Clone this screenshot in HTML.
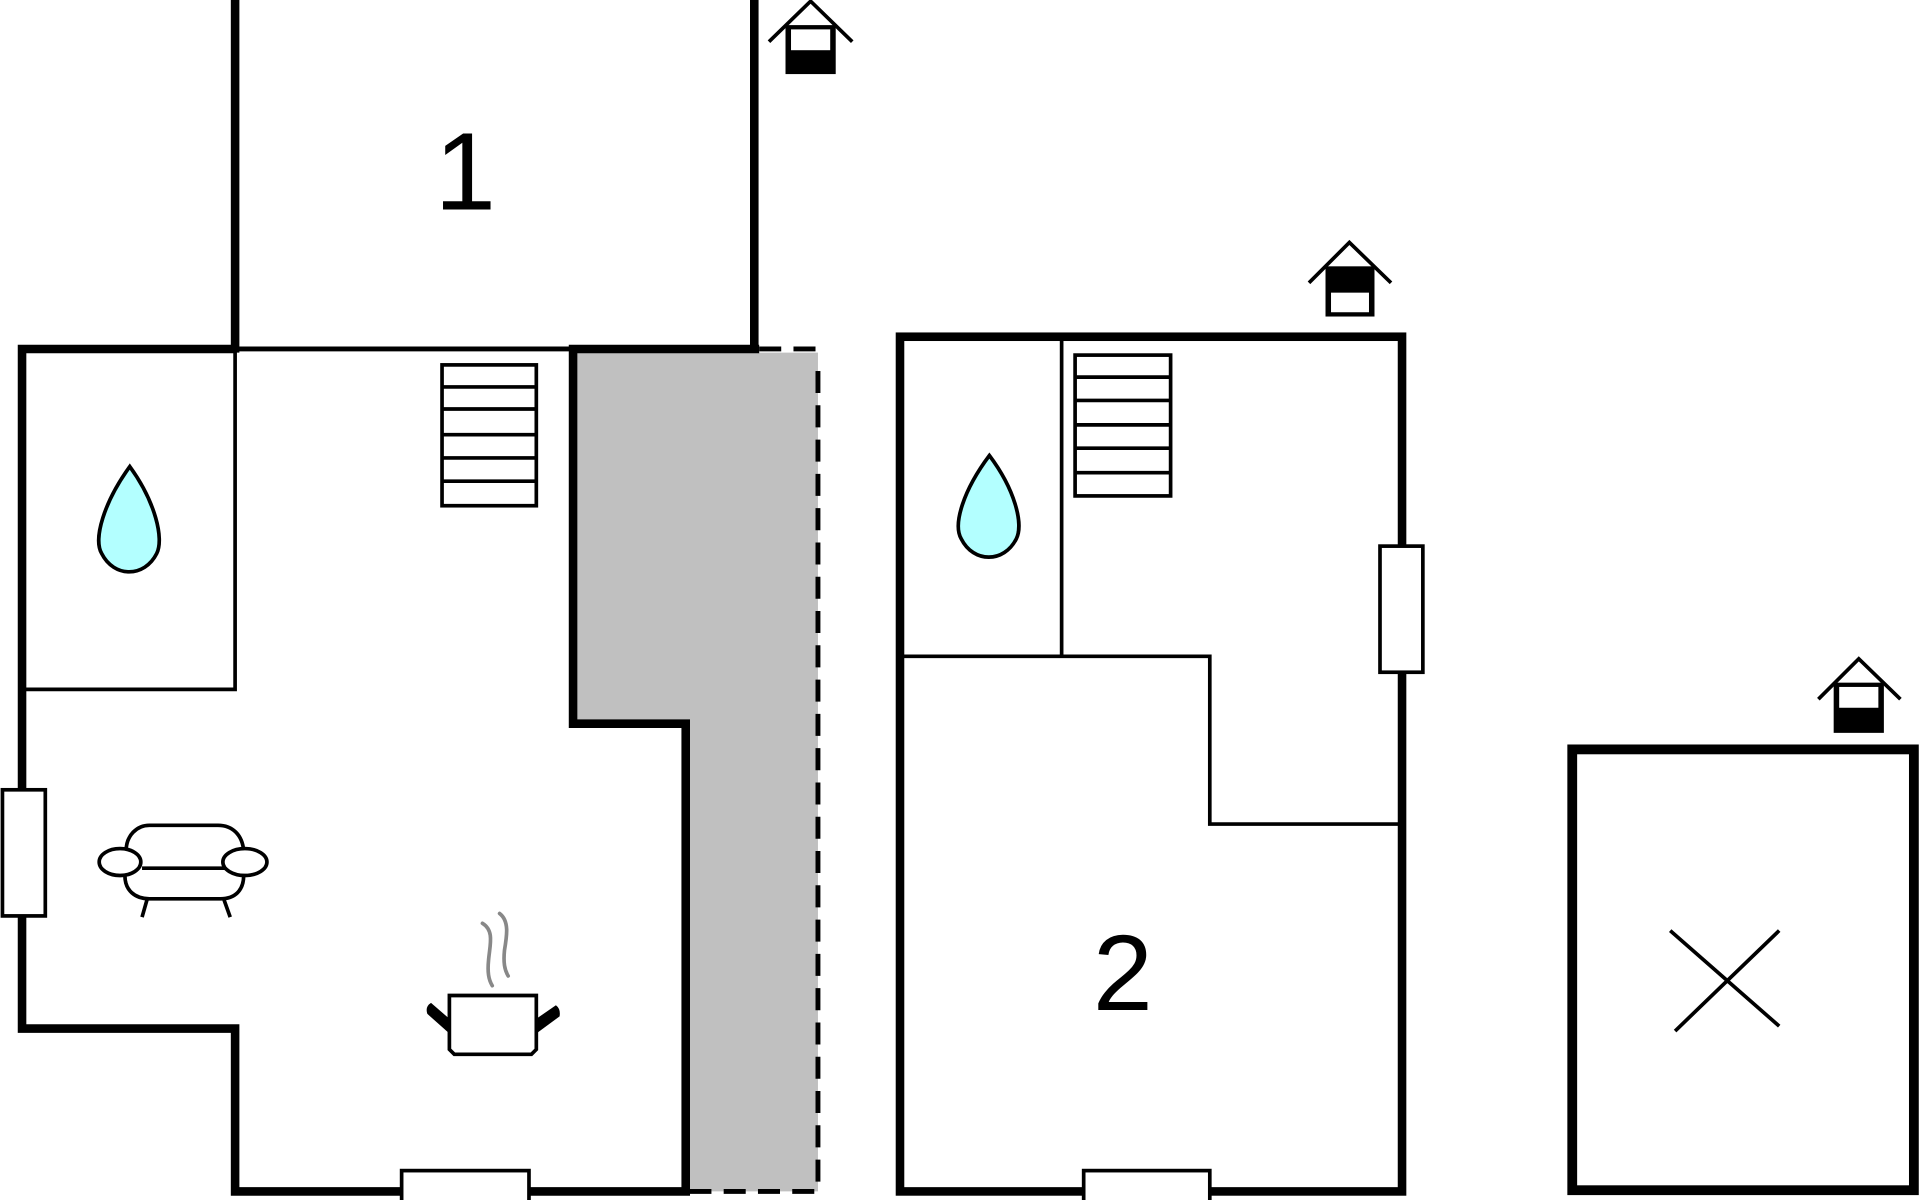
<!DOCTYPE html>
<html><head><meta charset="utf-8"><style>html,body{margin:0;padding:0;background:#fff}svg{display:block}</style></head>
<body>
<svg width="1920" height="1200" viewBox="0 0 1568 980" xmlns="http://www.w3.org/2000/svg">
<rect width="1568" height="980" fill="#fff"/>
<polygon points="470,288 668,288 668,973 563,973 563,594 470,594" fill="#c0c0c0"/>
<line x1="192" y1="0" x2="192" y2="288" stroke="#000" stroke-width="7"/>
<line x1="616" y1="0" x2="616" y2="288" stroke="#000" stroke-width="7"/>
<line x1="192" y1="285" x2="470" y2="285" stroke="#000" stroke-width="4"/>
<polyline points="192,285 18,285 18,840 192,840 192,973 560,973 560,591 468,591 468,285 620,285" fill="none" stroke="#000" stroke-width="7"/>
<g stroke="#000" stroke-width="4" stroke-dasharray="18,10">
<line x1="620" y1="285" x2="670" y2="285"/>
<line x1="668" y1="303" x2="668" y2="975"/>
<line x1="563" y1="973" x2="670" y2="973"/>
</g>
<polyline points="192,285 192,563 20,563" fill="none" stroke="#000" stroke-width="3"/>
<rect x="2" y="645" width="35" height="103" fill="#fff" stroke="#000" stroke-width="3"/>
<rect x="328" y="956" width="104" height="26" fill="#fff" stroke="#000" stroke-width="3"/>
<g fill="none" stroke="#000" stroke-width="3">
<rect x="361" y="298" width="77" height="115"/>
<line x1="361" y1="316" x2="438" y2="316"/><line x1="361" y1="334" x2="438" y2="334"/>
<line x1="361" y1="355" x2="438" y2="355"/><line x1="361" y1="374" x2="438" y2="374"/>
<line x1="361" y1="393" x2="438" y2="393"/>
</g>
<path d="M106,381 C85,410 76,440 83,452 C93,472 118,472 128,452 C134,440 127,410 106,381 Z" fill="#b3ffff" stroke="#000" stroke-width="3"/>
<g fill="none" stroke="#000" stroke-width="3">
<path d="M103,695 C103,682 112,674 122,674 L178,674 C190,674 198,682 199,695"/>
<line x1="116" y1="709" x2="184" y2="709"/>
<path d="M102,715 C102,727 110,734 122,734 L180,734 C192,734 199,727 199,715"/>
<ellipse cx="98" cy="704" rx="17" ry="11" fill="#fff"/>
<ellipse cx="200" cy="704" rx="18" ry="11" fill="#fff"/>
<line x1="120" y1="735" x2="116" y2="749"/><line x1="183" y1="735" x2="188" y2="749"/>
</g>
<g>
<path d="M394,754 C404,760 400,772 399,784 C398,794 399,800 402,805" fill="none" stroke="#888" stroke-width="3" stroke-linecap="round"/>
<path d="M408,746 C416,752 414,764 412,776 C411,786 412,792 415,797" fill="none" stroke="#888" stroke-width="3" stroke-linecap="round"/>
<path d="M367,813 L438,813 L438,857 L434,861 L371,861 L367,857 Z" fill="#fff" stroke="#000" stroke-width="3"/>
<path d="M367,832 L352,819 Q347,822 349,828 L367,844 Z" fill="#000"/>
<path d="M438,832 L454,821 Q458,824 457,830 L438,844 Z" fill="#000"/>
</g>
<text x="380" y="171" font-family="Liberation Sans, sans-serif" font-size="90" text-anchor="middle" fill="#000">1</text>
<g stroke="#000" stroke-width="3" fill="none">
<polyline points="628,34 662,1 696,34"/>
<rect x="643" y="22" width="38" height="37" fill="#000"/>
<rect x="646" y="24" width="32" height="17" fill="#fff" stroke="none"/>
</g>
<rect x="735" y="275" width="410" height="698" fill="none" stroke="#000" stroke-width="7"/>
<g fill="none" stroke="#000" stroke-width="3">
<line x1="867" y1="278" x2="867" y2="536"/>
<polyline points="737,536 988,536 988,673 1142,673"/>
</g>
<rect x="1127" y="446" width="35" height="103" fill="#fff" stroke="#000" stroke-width="3"/>
<rect x="885" y="956" width="103" height="26" fill="#fff" stroke="#000" stroke-width="3"/>
<g fill="none" stroke="#000" stroke-width="3">
<rect x="878" y="290" width="78" height="115"/>
<line x1="878" y1="308" x2="956" y2="308"/><line x1="878" y1="327" x2="956" y2="327"/>
<line x1="878" y1="347" x2="956" y2="347"/><line x1="878" y1="366" x2="956" y2="366"/>
<line x1="878" y1="386" x2="956" y2="386"/>
</g>
<path d="M808,372 C787,400 778,428 785,440 C795,460 820,460 830,440 C836,428 829,400 808,372 Z" fill="#b3ffff" stroke="#000" stroke-width="3"/>
<text x="917" y="825" font-family="Liberation Sans, sans-serif" font-size="88" text-anchor="middle" fill="#000">2</text>
<g stroke="#000" stroke-width="3" fill="none">
<polyline points="1069,231 1102,198 1136,231"/>
<rect x="1084" y="219" width="37" height="38" fill="#000"/>
<rect x="1087" y="239" width="31" height="16" fill="#fff" stroke="none"/>
</g>
<rect x="1284" y="612" width="279" height="360" fill="none" stroke="#000" stroke-width="8"/>
<g stroke="#000" stroke-width="3">
<line x1="1364" y1="760" x2="1453" y2="838"/>
<line x1="1453" y1="760" x2="1368" y2="842"/>
</g>
<g stroke="#000" stroke-width="3" fill="none">
<polyline points="1485,571 1518,538 1552,571"/>
<rect x="1499" y="559" width="38" height="38" fill="#000"/>
<rect x="1502" y="561" width="32" height="17" fill="#fff" stroke="none"/>
</g>
</svg>
</body></html>
